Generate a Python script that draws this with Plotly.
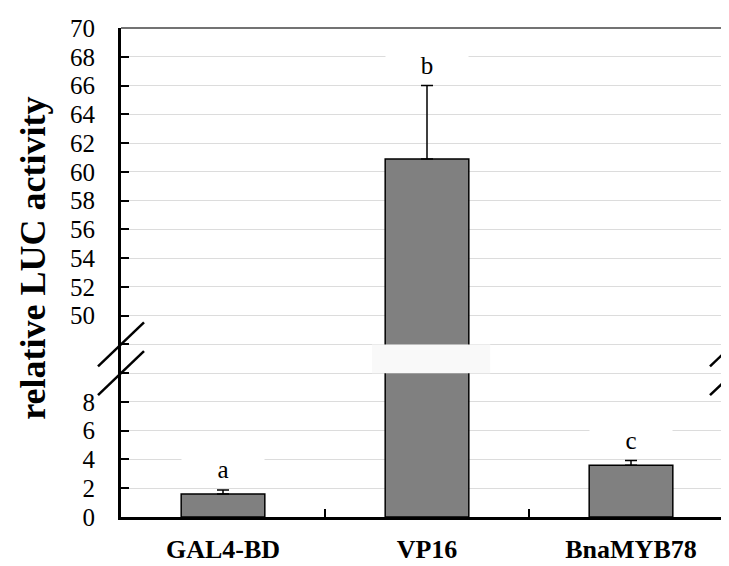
import plotly.graph_objects as go

# ---- data (real units) ----
categories = ["GAL4-BD", "VP16", "BnaMYB78"]
values = [1.6, 60.9, 3.6]
errors_plus = [0.28, 5.1, 0.32]
letters = ["a", "b", "c"]

# broken axis: lower segment 0-8, upper segment 50-70
lower_ticks = [0, 2, 4, 6, 8]
gap_ticks = [10, 12]
upper_ticks = [50, 52, 54, 56, 58, 60, 62, 64, 66, 68, 70]
BREAK_LOW, BREAK_HIGH = 10, 50   # upper value 50 sits at axis position 14
UPPER_OFFSET = 14


def to_axis(v):
    return v if v <= BREAK_LOW else v - BREAK_HIGH + UPPER_OFFSET


bar_pos = [to_axis(v) for v in values]
err_top = [to_axis(v + e) for v, e in zip(values, errors_plus)]
err_plot = [t - b for t, b in zip(err_top, bar_pos)]

tickvals = lower_ticks + gap_ticks + [to_axis(v) for v in upper_ticks]
ticktext = [str(v) for v in lower_ticks] + ["" for _ in gap_ticks] + [str(v) for v in upper_ticks]

SERIF = "Liberation Serif, Times New Roman, serif"

fig = go.Figure()
fig.add_trace(go.Bar(
    x=categories, y=bar_pos, width=0.41,
    marker=dict(color="#808080", line=dict(color="black", width=1.5)),
    error_y=dict(type="data", symmetric=False, array=err_plot, arrayminus=[0] * 3,
                 color="black", thickness=1.5, width=6),
    showlegend=False,
))

shapes = []
# white band across VP16 bar marking the break
vp_idx = categories.index("VP16")
shapes.append(dict(type="rect", xref="x", yref="y",
                   x0=vp_idx - 0.27, x1=vp_idx + 0.31,
                   y0=gap_ticks[0], y1=gap_ticks[1],
                   fillcolor="#f9f9f9", line=dict(width=0), layer="above"))
# break slashes on left axis and right border
for xa in (0, 1):
    for yb in gap_ticks:
        shapes.append(dict(type="line", xref="paper", yref="y",
                           xsizemode="pixel", xanchor=xa, x0=-23, x1=23,
                           ysizemode="pixel", yanchor=yb, y0=-22, y1=22,
                           line=dict(color="black", width=2.5), layer="above"))
# top border and right border
shapes.append(dict(type="line", xref="paper", yref="paper", x0=0, x1=1, y0=1, y1=1,
                   line=dict(color="#444", width=1.5)))
shapes.append(dict(type="line", xref="paper", yref="paper", x0=1, x1=1, y0=0, y1=1,
                   line=dict(color="#bbbbbb", width=1.5)))

annotations = []
for c, t, l in zip(categories, err_top, letters):
    annotations.append(dict(x=c, y=t, xref="x", yref="y", text=l, showarrow=False,
                            yshift=21, yanchor="middle", width=80, height=32,
                            bgcolor="white", font=dict(family=SERIF, size=25, color="black")))
annotations.append(dict(x=0, y=0.528, xref="paper", yref="paper", text="<b>relative LUC activity</b>",
                        textangle=-90, showarrow=False, xshift=-88, xanchor="center", yanchor="middle",
                        font=dict(family=SERIF, size=36, color="black")))

fig.update_layout(
    width=729, height=566,
    margin=dict(l=113, r=4, t=20, b=57),
    paper_bgcolor="white", plot_bgcolor="white",
    bargap=0.59,
    shapes=shapes, annotations=annotations,
    xaxis=dict(
        type="category", range=[-0.5, 2.5],
        showline=True, linecolor="black", linewidth=3,
        ticks="inside", tickson="boundaries", ticklen=8, tickwidth=2, tickcolor="black",
        tickfont=dict(family=SERIF, size=26, color="black", weight="bold"),
        ticklabelstandoff=7,
        showgrid=False, zeroline=False,
    ),
    yaxis=dict(
        range=[0, 34], tickvals=tickvals, ticktext=ticktext,
        showline=True, linecolor="black", linewidth=3,
        ticks="inside", ticklen=8, tickwidth=2, tickcolor="black",
        tickfont=dict(family=SERIF, size=25, color="black"),
        ticklabelstandoff=18,
        showgrid=True, gridcolor="#dcdcdc", gridwidth=1,
        zeroline=False,
    ),
)

fig.write_html("out.html")
